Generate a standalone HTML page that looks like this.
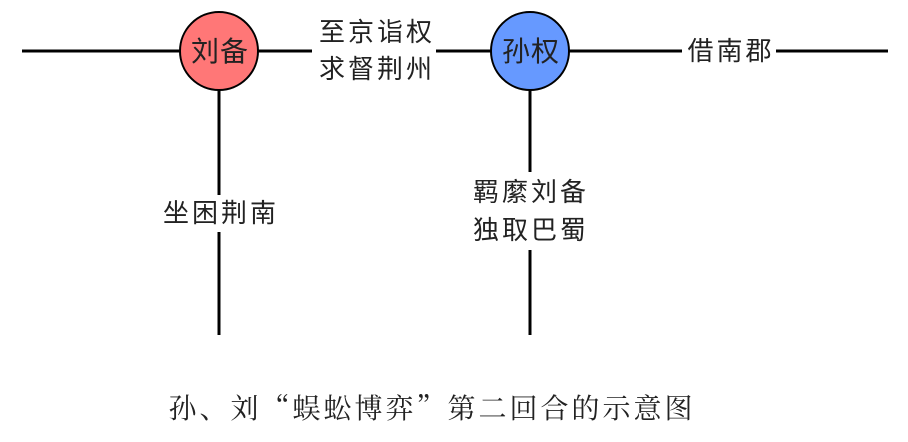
<!DOCTYPE html>
<html><head><meta charset="utf-8"><style>
html,body{margin:0;padding:0;background:#fff}
svg text{font-family:"Liberation Sans","Noto Sans CJK SC",sans-serif;fill:#222}
</style></head><body>
<svg width="908" height="437" viewBox="0 0 908 437" xmlns="http://www.w3.org/2000/svg">
<g stroke="#000" stroke-width="3">
<line x1="22" y1="51" x2="180" y2="51"/>
<line x1="258" y1="51" x2="312" y2="51"/>
<line x1="436" y1="51" x2="491" y2="51"/>
<line x1="569" y1="51" x2="682" y2="51"/>
<line x1="776" y1="51" x2="888" y2="51"/>
<line x1="219" y1="90" x2="219" y2="195"/>
<line x1="219" y1="232" x2="219" y2="335"/>
<line x1="530" y1="90" x2="530" y2="172"/>
<line x1="530" y1="250" x2="530" y2="335"/>
</g>
<circle cx="219" cy="51" r="39" fill="#ff7777" stroke="#000" stroke-width="2"/>
<circle cx="530" cy="51" r="39" fill="#6699ff" stroke="#000" stroke-width="2"/>
<g font-size="28" text-anchor="middle">
<text x="220" y="61" letter-spacing="1">刘备</text>
<text x="531" y="61" letter-spacing="1">孙权</text>
</g>
<g font-size="26" text-anchor="middle" letter-spacing="3">
<text x="377" y="41">至京诣权</text>
<text x="377" y="78">求督荆州</text>
<text x="731" y="60">借南郡</text>
<text x="221" y="222">坐困荆南</text>
<text x="531" y="201">羁縻刘备</text>
<text x="531" y="239">独取巴蜀</text>
</g>
<text x="432" y="418" font-size="28" letter-spacing="3" text-anchor="middle" style="font-family:'Noto Serif CJK SC',serif">孙、刘“蜈蚣博弈”第二回合的示意图</text>
</svg>
</body></html>
